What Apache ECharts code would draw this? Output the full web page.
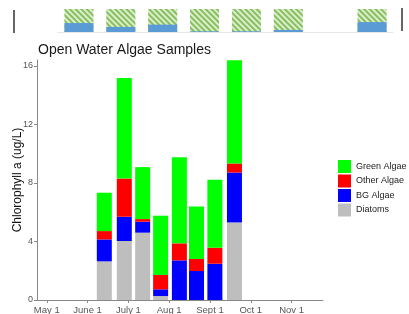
<!DOCTYPE html>
<html>
<head>
<meta charset="utf-8">
<script src="https://cdn.jsdelivr.net/npm/echarts@6/dist/echarts.min.js"></script>
<style>
  html, body { margin: 0; padding: 0; background: #fff; }
  #container { width: 409px; height: 314px; }
</style>
</head>
<body>
<div id="container"></div>
<script>
// sample dates, in months after May 1
var sampleMonths = [1.41, 1.90, 2.35, 2.79, 3.25, 3.67, 4.12, 4.60];
var diatoms = [2.64, 4.03, 4.60, 0.27, 0.00, 0.00, 0.00, 5.30];
var bgAlgae = [1.50, 1.66, 0.75, 0.46, 2.71, 1.98, 2.48, 3.41];
var otherAlgae = [0.57, 2.61, 0.18, 0.98, 1.16, 0.82, 1.09, 0.62];
var greenAlgae = [2.62, 6.87, 3.55, 4.05, 5.89, 3.59, 4.64, 7.05];
var monthLabels = ['May 1', 'June 1', 'July 1', 'Aug 1', 'Sept 1', 'Oct 1', 'Nov 1'];
var yTicks = [0, 4, 8, 12, 16];

// cut-off strip of the chart above
var stripCats = ['a', 'b', 'c', 'd', 'e', 'f', 'g', 'h'];
var stripTotal = [1, 1, 1, 1, 1, 1, null, 1];
var stripBlue = [0.39, 0.22, 0.32, 0.03, 0.03, 0.09, null, 0.43];

var font = 'Arial, "Liberation Sans", sans-serif';

var names = ['Diatoms', 'BG Algae', 'Other Algae', 'Green Algae'];
var colors = ['#bebebe', '#0000ff', '#ff0000', '#00ff00'];
var values = [diatoms, bgAlgae, otherAlgae, greenAlgae];

// stacked bars: each layer sits on the sum of the layers below it
function stackedSeries(k) {
    return {
        name: names[k],
        type: 'custom',
        xAxisIndex: 0,
        yAxisIndex: 0,
        itemStyle: { color: colors[k] },
        encode: { x: 0, y: 1 },
        data: values[k].map(function (v, i) { return [sampleMonths[i], v, i]; }),
        renderItem: function (params, api) {
            var i = api.value(2);
            var base = 0;
            for (var j = 0; j < k; j++) base += values[j][i];
            var v = api.value(1);
            if (!v) return null;
            var p0 = api.coord([api.value(0), base]);
            var p1 = api.coord([api.value(0), base + v]);
            var w = 15;
            return {
                type: 'rect',
                shape: { x: p0[0] - w / 2, y: p1[1], width: w, height: p0[1] - p1[1] },
                style: { fill: colors[k] }
            };
        }
    };
}

var dom = document.getElementById('container');
var myChart = echarts.init(dom);

var series = [0, 1, 2, 3].map(stackedSeries);

series.push({
    type: 'bar',
    xAxisIndex: 1,
    yAxisIndex: 1,
    barWidth: 29,
    barGap: '-100%',
    silent: true,
    itemStyle: {
        color: '#dcedcc',
        decal: {
            symbol: 'rect',
            color: '#86bf5e',
            dashArrayX: [1, 0],
            dashArrayY: [1.5, 1.6],
            rotation: Math.PI / 4
        }
    },
    data: stripTotal
});
series.push({
    type: 'bar',
    xAxisIndex: 1,
    yAxisIndex: 1,
    barWidth: 29,
    barGap: '-100%',
    silent: true,
    itemStyle: { color: '#5b9bd5' },
    data: stripBlue
});

var option = {
    animation: false,
    textStyle: { fontFamily: font },
    title: {
        text: 'Open Water Algae Samples',
        left: 33,
        top: 38,
        textStyle: { fontSize: 14, fontWeight: 'normal', color: '#1a1a1a', fontFamily: font }
    },
    legend: {
        orient: 'vertical',
        left: 338,
        top: 160,
        padding: 0,
        itemWidth: 13,
        itemHeight: 13,
        itemGap: 1.5,
        icon: 'rect',
        data: ['Green Algae', 'Other Algae', 'BG Algae', 'Diatoms'],
        textStyle: { fontSize: 9, color: '#222', fontFamily: font }
    },
    graphic: [
        { type: 'line', shape: { x1: 14, y1: 10, x2: 14, y2: 33 }, style: { stroke: '#333', lineWidth: 1.5 } },
        { type: 'line', shape: { x1: 402, y1: 8, x2: 402, y2: 31 }, style: { stroke: '#333', lineWidth: 1.5 } }
    ],
    grid: [
        { left: 37, right: 86, top: 60, height: 240, outerBoundsMode: 'none', containLabel: false },
        { left: 58, width: 335, top: 9, height: 23, outerBoundsMode: 'none', containLabel: false }
    ],
    xAxis: [{
        type: 'value',
        gridIndex: 0,
        min: -0.24,
        max: 6.77,
        splitLine: { show: false },
        axisLine: { onZero: false, lineStyle: { color: '#888', width: 1 } },
        axisTick: { length: 3, lineStyle: { color: '#888' }, customValues: [0, 1, 2, 3, 4, 5, 6] },
        axisLabel: {
            customValues: [0, 1, 2, 3, 4, 5, 6],
            fontSize: 9.5,
            color: '#555',
            margin: 5,
            formatter: function (v) { return monthLabels[Math.round(v)]; }
        }
    }, {
        type: 'category',
        gridIndex: 1,
        data: stripCats,
        axisLine: { lineStyle: { color: '#e6e6e6', width: 1 } },
        axisTick: { show: false },
        axisLabel: { show: false }
    }],
    yAxis: [{
        type: 'value',
        gridIndex: 0,
        min: 0,
        max: 16.4,
        name: 'Chlorophyll a (ug/L)',
        nameLocation: 'middle',
        nameGap: 13,
        nameMoveOverlap: false,
        nameTextStyle: { fontSize: 12, color: '#111', fontFamily: font },
        splitLine: { show: false },
        axisLine: { show: true, onZero: false, lineStyle: { color: '#888', width: 1 } },
        axisTick: { show: true, length: 3, lineStyle: { color: '#888' }, customValues: yTicks },
        axisLabel: {
            customValues: yTicks,
            fontSize: 9,
            color: '#555',
            margin: 4
        }
    }, {
        type: 'value',
        gridIndex: 1,
        min: 0,
        max: 1,
        show: false
    }],
    series: series
};

myChart.setOption(option);
</script>
</body>
</html>
